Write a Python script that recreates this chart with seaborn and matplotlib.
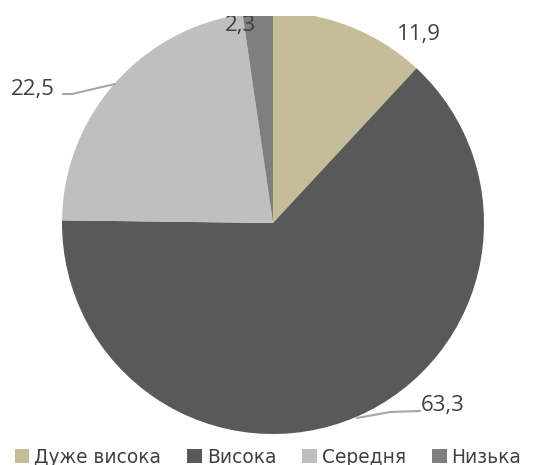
import matplotlib
matplotlib.use("Agg")
import matplotlib.pyplot as plt
import seaborn as sns
from matplotlib.patches import Patch, Rectangle

categories = ["Дуже висока", "Висока", "Середня", "Низька"]
values = [11.9, 63.3, 22.5, 2.3]
value_labels = ["11,9", "63,3", "22,5", "2,3"]
colors = ["#C4BD97", "#595959", "#BFBFBF", "#7F7F7F"]

sns.set_style("white")
plt.rcParams['font.family'] = ['DejaVu Sans']

W, H = 540, 465
fig = plt.figure(figsize=(W / 100, H / 100), dpi=100)
cx, cy, r = 273, 223, 211
ax = fig.add_axes([(cx - r) / W, (H - cy - r) / H, 2 * r / W, 2 * r / H])

wedges, _ = ax.pie(values, colors=colors, startangle=90, counterclock=False,
                   radius=1, wedgeprops=dict(linewidth=0))
ax.set_xlim(-1, 1)
ax.set_ylim(-1, 1)
ax.set_aspect("equal")
ax.axis("off")

def px(x, y):
    return ((x - cx) / r, (cy - y) / r)

txt_kw = dict(fontsize=16, color="#404040", family=["Open Sans", "DejaVu Sans"],
              va="center")
line_col = "#A6A6A6"

# 11,9
ax.text(*px(397, 34), value_labels[0], ha="left", **txt_kw)
# 2,3
ax.text(*px(240, 25), value_labels[3], ha="center", **txt_kw)
# 22,5 with leader
ax.text(*px(55, 89), value_labels[2], ha="right", **txt_kw)
ax.plot(*zip(px(58, 94), px(72, 94), px(115, 84)), color=line_col, lw=1.5)
# 63,3 with leader
ax.text(*px(421, 405), value_labels[1], ha="left", **txt_kw)
ax.plot(*zip(px(357, 418), px(390, 412), px(420, 411)), color=line_col, lw=1.5)

# top strip of the reference is blank (plot area clipped)
fig.add_artist(Rectangle((0, 1 - 16 / H), 1, 16 / H, transform=fig.transFigure,
                         facecolor="white", edgecolor="none", zorder=10))

handles = [Patch(facecolor=c, edgecolor="none") for c in colors]
fig.legend(handles, categories, loc="center", bbox_to_anchor=(268 / W, 1 - 457 / H),
           ncol=4, frameon=False, fontsize=13.4, handlelength=0.8, handleheight=0.8,
           handletextpad=0.25, columnspacing=1.4, labelcolor="#404040",
           borderpad=0, borderaxespad=0)

fig.savefig("out.png", dpi=100)
